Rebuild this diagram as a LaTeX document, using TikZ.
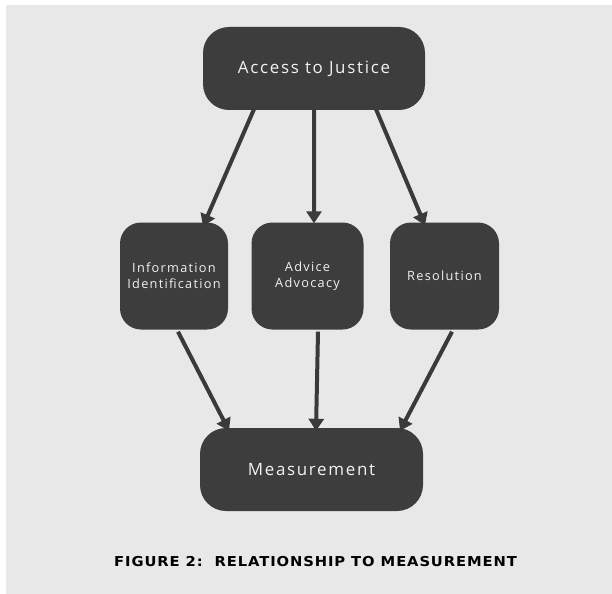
\documentclass[tikz,border=0pt]{standalone}
\usepackage{graphicx}
\usepackage{fontspec}
\setmainfont{Open Sans}[LetterSpace=10]
\newfontfamily\captionfont{DejaVu Sans}[LetterSpace=6]
\usetikzlibrary{arrows.meta}
\definecolor{boxfill}{HTML}{3D3D3D}
\definecolor{panel}{HTML}{E8E8E8}
\definecolor{boxtext}{HTML}{F2F2F2}
\definecolor{linkcol}{HTML}{3A3A3A}
\begin{document}
\begin{tikzpicture}[x=1bp,y=-1bp,
  card/.style={fill=boxfill,draw=none,text=boxtext,align=center,inner sep=0pt},
  bigcard/.style={card,rounded corners=26bp,minimum width=222bp,minimum height=83bp,font=\fontsize{17}{19}\selectfont},
  smallcard/.style={card,rounded corners=21bp,minimum height=107bp,font=\fontsize{12.8}{16}\selectfont},
  link/.style={draw=linkcol,line width=4bp,-{Triangle[width=15bp,length=12bp]}}]
  % canvas and grey panel
  \useasboundingbox (0,0) rectangle (612,594);
  \fill[white] (0,0) rectangle (612,594);
  \fill[panel] (6,5) rectangle (612,594);

  % boxes
  \node[bigcard] (access) at (314,68.5) {Access to Justice};
  \node[smallcard,minimum width=108bp] (info) at (174,276) {Information\\Identification};
  \node[smallcard,minimum width=112bp] (advice) at (307.5,276) {Advice\\Advocacy};
  \node[smallcard,minimum width=109bp] (resol) at (444.5,276) {Resolution};
  \node[bigcard,minimum width=223bp] (meas) at (311.5,469.5) {Measurement};

  % links from the top box
  \draw[link] ([xshift=-60bp,yshift=1bp]access.south) -- ([xshift=29bp,yshift=-4bp]info.north);
  \draw[link] ([xshift=0bp,yshift=1bp]access.south) -- ([xshift=6.5bp,yshift=-1bp]advice.north);
  \draw[link] ([xshift=62bp,yshift=1bp]access.south) -- ([xshift=-19.5bp,yshift=-3bp]resol.north);

  % links into the measurement box
  \draw[link] ([xshift=4bp,yshift=-2bp]info.south) -- ([xshift=-82.5bp,yshift=-3bp]meas.north);
  \draw[link] ([xshift=10.5bp,yshift=-2bp]advice.south) -- ([xshift=4.5bp,yshift=-3bp]meas.north);
  \draw[link] ([xshift=7.5bp,yshift=-2bp]resol.south) -- ([xshift=88.5bp,yshift=-3bp]meas.north);

  % caption
  \node[font=\captionfont\bfseries\fontsize{13.7}{15}\selectfont,text=black,anchor=base west,inner sep=0pt] (cap) at (114,566) {\scalebox{1.08}[1]{FIGURE 2:\ \ RELATIONSHIP TO MEASUREMENT}};
\end{tikzpicture}
\end{document}
